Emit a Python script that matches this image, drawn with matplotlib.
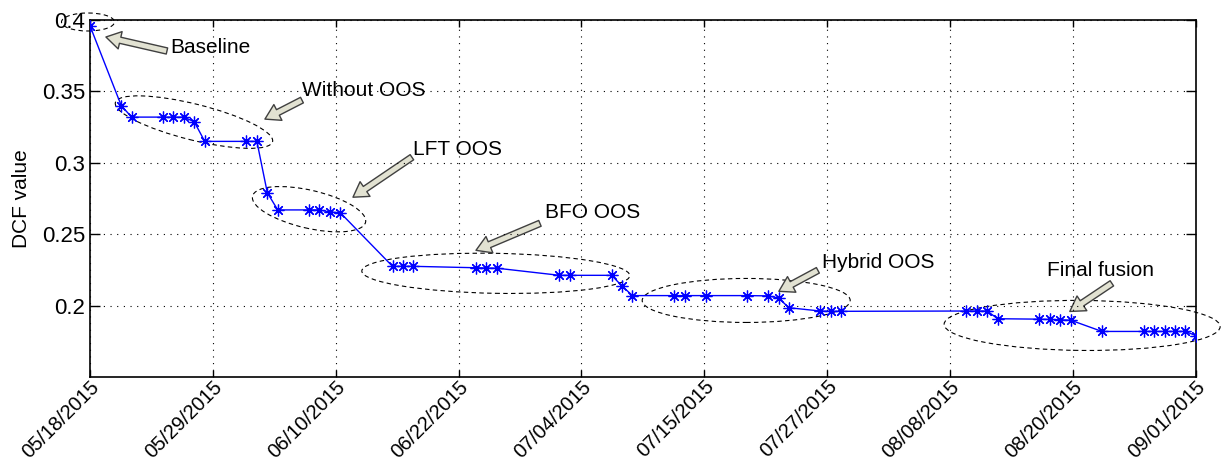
import matplotlib
matplotlib.use('Agg')
import matplotlib.pyplot as plt
import matplotlib.dates as mdates
import pandas as pd
from matplotlib.patches import Ellipse, FancyArrowPatch, ArrowStyle
from matplotlib.transforms import ScaledTranslation

plt.rcParams['font.family'] = ['Liberation Sans', 'DejaVu Sans']

# ---- data ----
dates = ['2015-05-18', '2015-05-21', '2015-05-22', '2015-05-25', '2015-05-26', '2015-05-27',
         '2015-05-28', '2015-05-29', '2015-06-02', '2015-06-03', '2015-06-04', '2015-06-05',
         '2015-06-08', '2015-06-09', '2015-06-10', '2015-06-11', '2015-06-16', '2015-06-17',
         '2015-06-18', '2015-06-24', '2015-06-25', '2015-06-26', '2015-07-02', '2015-07-03',
         '2015-07-07', '2015-07-08', '2015-07-09', '2015-07-13', '2015-07-14', '2015-07-16',
         '2015-07-20', '2015-07-22', '2015-07-23', '2015-07-24', '2015-07-27', '2015-07-28',
         '2015-07-29', '2015-08-10', '2015-08-11', '2015-08-12', '2015-08-13', '2015-08-17',
         '2015-08-18', '2015-08-19', '2015-08-20', '2015-08-23', '2015-08-27', '2015-08-28',
         '2015-08-29', '2015-08-30', '2015-08-31', '2015-09-01']
dcf = [0.396, 0.340, 0.332, 0.332, 0.332, 0.332,
       0.3287, 0.315, 0.315, 0.315, 0.279, 0.267,
       0.267, 0.267, 0.2655, 0.265, 0.2275, 0.2275,
       0.2275, 0.2265, 0.2263, 0.2262, 0.2212, 0.2212,
       0.2212, 0.2137, 0.207, 0.207, 0.207, 0.207,
       0.207, 0.2068, 0.2053, 0.1985, 0.1962, 0.196,
       0.196, 0.1962, 0.1962, 0.1962, 0.1908, 0.1905,
       0.1903, 0.1900, 0.1898, 0.1819, 0.1819, 0.1819,
       0.1819, 0.1819, 0.1819, 0.179]

start_date = '2015-05-18'
end_date = '2015-09-01'
n_xticks = 10
yticks = [0.2, 0.25, 0.3, 0.35, 0.4]
ytick_labels = ['0.2', '0.25', '0.3', '0.35', '0.4']
ylim = (0.15, 0.4)

# annotations: label, text (day offset, value), arrow tail, arrow tip,
# ellipse centre (day offset, value), ellipse width/height (inches), angle
ann_labels = ['Baseline', 'Without OOS', 'LFT OOS', 'BFO OOS', 'Hybrid OOS', 'Final fusion']
ann_text = [(7.67, 0.3804), (20.32, 0.3509), (30.96, 0.3095), (43.61, 0.2654), (70.16, 0.2303), (91.72, 0.2247)]
ann_tail = [(7.38, 0.3783), (20.32, 0.3439), (30.86, 0.3039), (43.13, 0.2576), (69.77, 0.2247), (97.95, 0.2156)]
ann_tip = [(1.53, 0.3881), (16.77, 0.3306), (25.21, 0.2759), (37.0, 0.2387), (66.03, 0.2100), (93.92, 0.1959)]
ell_center = [(-0.19, 0.3986), (9.97, 0.3285), (21.0, 0.2675), (38.9, 0.2226), (62.9, 0.2036), (95.1, 0.1861)]
ell_size = [(0.53, 0.18), (1.62, 0.36), (1.16, 0.38), (2.68, 0.40), (2.08, 0.44), (2.76, 0.50)]
ell_angle = [0, -14, -13, -1, 0, -0.5]

# ---- figure ----
fig = plt.figure(figsize=(12.24, 4.62), dpi=100)
ax = fig.add_axes([0.0735, 0.184, 0.9035, 0.7727])

x = pd.to_datetime(dates)
ax.plot(x, dcf, '-', color='blue', lw=1.0, marker=(8, 2, 0), ms=8.5, mew=0.9, zorder=3)

t0 = pd.Timestamp(start_date)
t1 = pd.Timestamp(end_date)
tick_dates = pd.date_range(t0, t1, periods=n_xticks)
tick_labels = [d.floor('D').strftime('%m/%d/%Y') for d in tick_dates]
ax.set_xlim(t0, t1)
ax.set_xticks(tick_dates)
ax.set_xticklabels(tick_labels, rotation=45, ha='right', va='top',
                   rotation_mode='anchor', fontsize=14.5)
shift = ScaledTranslation(6 / 100, 0, fig.dpi_scale_trans)
for lbl in ax.get_xticklabels():
    lbl.set_transform(lbl.get_transform() + shift)
ax.set_ylim(*ylim)
ax.set_yticks(yticks)
ax.set_yticklabels(ytick_labels, fontsize=16)
ax.set_ylabel('DCF value', fontsize=15, labelpad=8)

ax.grid(True, color='black', linestyle=(0, (1, 5)), linewidth=0.8)
ax.tick_params(axis='both', direction='in', top=True, right=True, width=1.0)
ax.tick_params(axis='y', length=7)
ax.tick_params(axis='x', length=5, pad=0)
for s in ax.spines.values():
    s.set_linewidth(1.2)

base = mdates.date2num(t0)

def to_xy(p):
    return (base + p[0], p[1])

for lab, tp, tail, tip, ec, es, ea in zip(ann_labels, ann_text, ann_tail, ann_tip,
                                          ell_center, ell_size, ell_angle):
    cx, cy = to_xy(ec)
    tr = fig.dpi_scale_trans + ScaledTranslation(cx, cy, ax.transData)
    e = Ellipse((0, 0), es[0], es[1], angle=ea, transform=tr, fill=False,
                edgecolor='black', linestyle=(0, (4, 3)), linewidth=0.8, clip_on=False)
    ax.add_patch(e)
    tx, ty = to_xy(tp)
    ax.text(tx, ty, lab, fontsize=15, ha='left', va='center')
    arr = FancyArrowPatch(to_xy(tail), to_xy(tip),
                          arrowstyle=ArrowStyle.Simple(head_length=0.7, head_width=0.85, tail_width=0.3),
                          mutation_scale=15, facecolor='#e2e2d2', edgecolor='#404040',
                          linewidth=1.0, shrinkA=0, shrinkB=0, clip_on=False)
    ax.add_patch(arr)

fig.savefig('out.png', dpi=100)
